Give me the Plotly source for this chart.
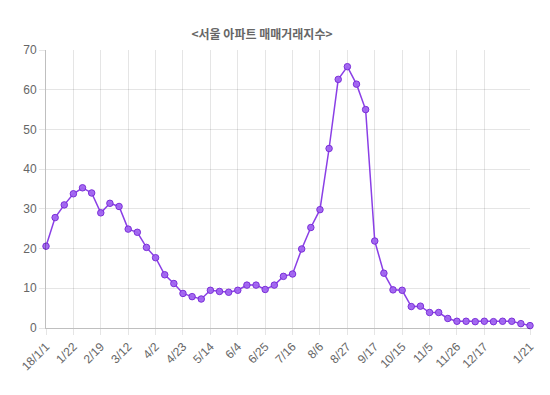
import plotly.graph_objects as go

dates = [
    "18/1/1", "1/8", "1/15", "1/22", "1/29", "2/5", "2/19", "2/26", "3/5", "3/12",
    "3/19", "3/26", "4/2", "4/9", "4/16", "4/23", "4/30", "5/7", "5/14", "5/21",
    "5/28", "6/4", "6/11", "6/18", "6/25", "7/2", "7/9", "7/16", "7/23", "7/30",
    "8/6", "8/13", "8/20", "8/27", "9/3", "9/10", "9/17", "10/1", "10/8", "10/15",
    "10/22", "10/29", "11/5", "11/12", "11/19", "11/26", "12/3", "12/10", "12/17", "12/24",
    "12/31", "1/7", "1/14", "1/21",
]
values = [
    20.6, 27.8, 31.0, 33.8, 35.3, 34.0, 29.0, 31.4, 30.6, 24.9,
    24.1, 20.3, 17.7, 13.4, 11.2, 8.7, 7.9, 7.3, 9.5, 9.2,
    9.0, 9.5, 10.8, 10.8, 9.7, 10.8, 13.0, 13.6, 19.9, 25.3,
    29.8, 45.2, 62.6, 65.8, 61.4, 55.0, 21.9, 13.8, 9.6, 9.5,
    5.4, 5.5, 3.9, 3.9, 2.4, 1.7, 1.7, 1.6, 1.7, 1.6,
    1.7, 1.7, 1.1, 0.6,
]
shown_labels = ["18/1/1", "1/22", "2/19", "3/12", "4/2", "4/23", "5/14", "6/4", "6/25",
                "7/16", "8/6", "8/27", "9/17", "10/15", "11/5", "11/26", "12/17", "1/21"]
title_text = "<서울 아파트 매매거래지수>"

x_idx = list(range(len(dates)))
tick_idx = [dates.index(l) if l != "1/21" else len(dates) - 1 for l in shown_labels]

fig = go.Figure()
fig.add_trace(go.Scatter(
    x=x_idx, y=values, mode="lines+markers",
    line=dict(color="#8a3fe6", width=1.5),
    marker=dict(size=6.5, color="rgba(160,100,240,0.95)", line=dict(color="#7b2fd9", width=1)),
    cliponaxis=False, hoverinfo="skip",
))

W, H = 542, 387
font_main = "Liberation Sans, Noto Sans CJK KR, sans-serif"
fig.update_layout(
    width=W, height=H,
    margin=dict(l=38, r=20, t=42, b=67, autoexpand=False),
    paper_bgcolor="white", plot_bgcolor="white",
    showlegend=False,
    font=dict(family=font_main, size=12, color="#666"),
    title=dict(text="<b>" + title_text + "</b>", x=254 / W, xref="container", xanchor="center",
               y=1 - 27 / H, yref="container", yanchor="middle",
               font=dict(family="Noto Sans CJK KR, sans-serif", size=12, color="#666")),
    xaxis=dict(
        range=[0, len(dates) - 1], tickmode="array", tickvals=tick_idx, ticktext=shown_labels,
        tickangle=-45, showgrid=True, gridcolor="rgba(0,0,0,0.1)", gridwidth=1,
        ticks="outside", ticklen=6, tickcolor="rgba(0,0,0,0.1)",
        showline=True, linecolor="rgba(0,0,0,0.25)", zeroline=False, automargin=False,
        tickfont=dict(size=12, color="#666"),
    ),
    yaxis=dict(
        range=[0, 70], tickvals=[0, 10, 20, 30, 40, 50, 60, 70],
        showgrid=True, gridcolor="rgba(0,0,0,0.1)", gridwidth=1,
        ticks="outside", ticklen=6, tickcolor="rgba(0,0,0,0.1)",
        showline=True, linecolor="rgba(0,0,0,0.25)", zeroline=False, automargin=False,
        tickfont=dict(size=12, color="#666"),
    ),
)
fig.write_html("out.html")
